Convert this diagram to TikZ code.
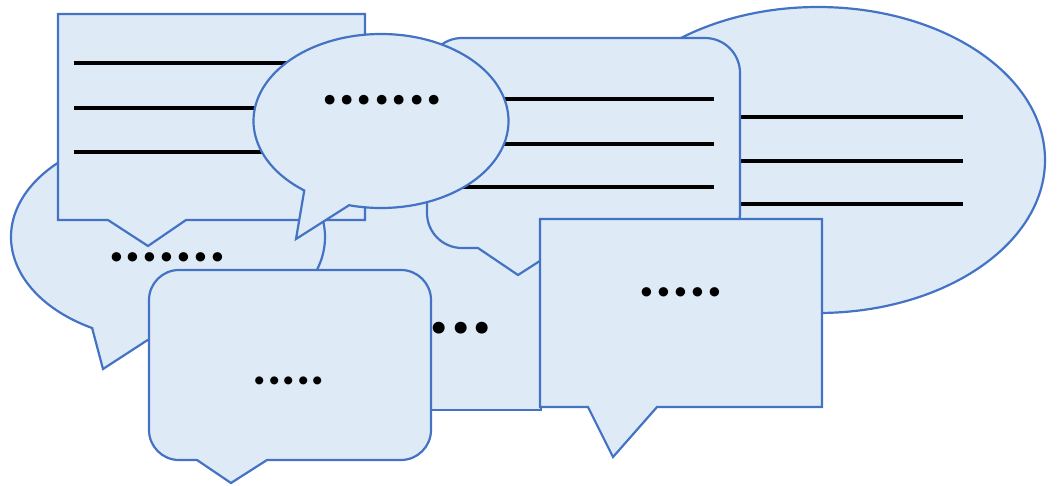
\documentclass[tikz,border=0pt]{standalone}
\usepackage{fontspec}
\usetikzlibrary{calc}
\newfontfamily\dotfont{Carlito}
\definecolor{cobalt}{HTML}{4472C4}
\definecolor{paleblue}{HTML}{DEEBF7}
\begin{document}
\begin{tikzpicture}[x=1pt,y=-1pt,
  bubble/.style={draw=cobalt,fill=paleblue,line width=2.2pt,line join=miter},
  bar/.style={draw=black,line width=3.5pt},
  dotrow/.style={inner sep=0pt,text=black,font=\dotfont\bfseries\fontsize{#1}{#1}\selectfont}]
\useasboundingbox (0,0) rectangle (1059,485);
% hidden rectangle at the back
\path[bubble] (200,150) -- (541,150) -- (541,410) -- (200,410) -- cycle;
\node[dotrow=80] (tHidden) at (418,328) {.......};
% big ellipse, right
\path[bubble] (818,160) ellipse [x radius=227,y radius=153];
\draw[bar] (700,117) -- (963,117);
\draw[bar] (700,161) -- (963,161);
\draw[bar] (700,204) -- (963,204);
% left ellipse callout
\path[bubble] ($(168,237)+(118.9:157 and 104)$) arc[start angle=118.9,end angle=457.5,x radius=157,y radius=104] -- (103,369) -- cycle;
\node[dotrow=63] (tLeft) at (167,257) {.......};
% top-left rectangular callout
\path[bubble] (58,14) -- (365,14) -- (365,220) -- (186,220) -- (148,246) -- (108,220) -- (58,220) -- cycle;
\draw[bar] (74,63) -- (340,63);
\draw[bar] (74,108) -- (340,108);
\draw[bar] (74,152) -- (340,152);
% upper rounded callout
\path[bubble] (462,38) -- (705,38) arc[start angle=270,end angle=360,radius=35] -- (740,213) arc[start angle=0,end angle=90,radius=35] -- (560,248) -- (518,275) -- (478,248) -- (462,248) arc[start angle=90,end angle=180,radius=35] -- (427,73) arc[start angle=180,end angle=270,radius=35] -- cycle;
\draw[bar] (455,99) -- (714,99);
\draw[bar] (455,144) -- (714,144);
\draw[bar] (455,187) -- (714,187);
% top oval bubble
\path[bubble] ($(381,121)+(127:127.5 and 87)$) arc[start angle=127,end angle=464.5,x radius=127.5,y radius=87] -- (296,239) -- cycle;
\node[dotrow=65] (tTop) at (382,100) {.......};
% lower rounded callout
\path[bubble] (179,270) -- (401,270) arc[start angle=270,end angle=360,radius=30] -- (431,430) arc[start angle=0,end angle=90,radius=30] -- (267,460) -- (231,483) -- (197,460) -- (179,460) arc[start angle=90,end angle=180,radius=30] -- (149,300) arc[start angle=180,end angle=270,radius=30] -- cycle;
\node[dotrow=54] (tLow) at (289,381) {.....};
% right rectangular callout
\path[bubble] (540,219) -- (822,219) -- (822,407) -- (657,407) -- (613,457) -- (588,407) -- (540,407) -- cycle;
\node[dotrow=63] (tRight) at (681,292) {.....};
\end{tikzpicture}
\end{document}
